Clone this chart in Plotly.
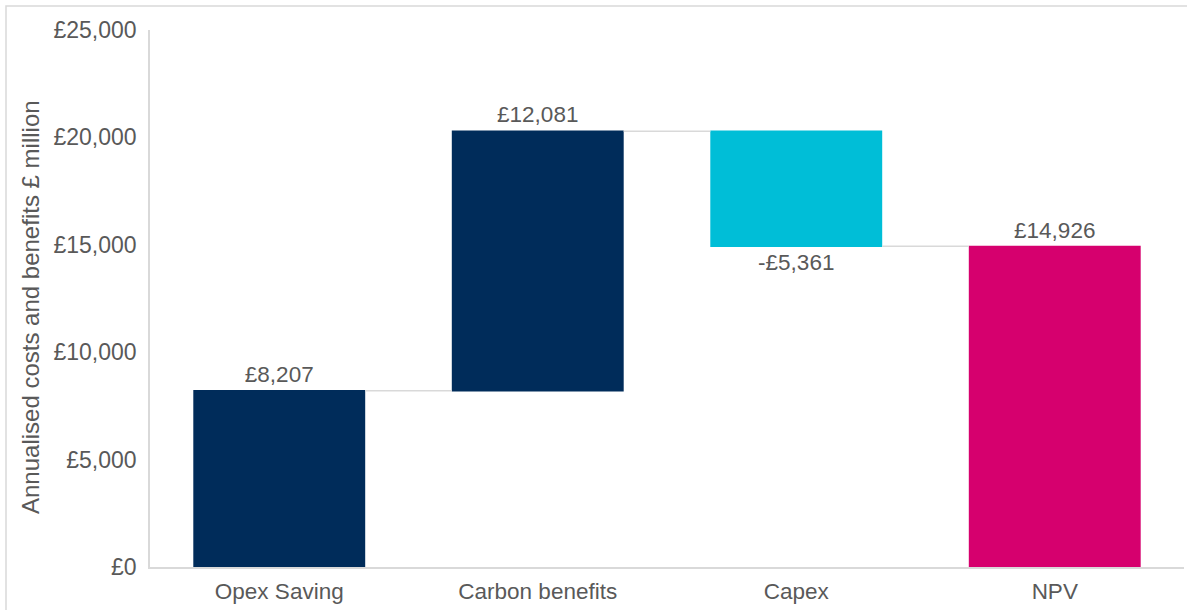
import plotly.graph_objects as go

# Waterfall steps
categories = ["Opex Saving", "Carbon benefits", "Capex", "NPV"]
values = [8207, 12081, -5361, 14926]
measures = ["relative", "relative", "relative", "absolute"]

# Y axis ticks
tick_values = [0, 5000, 10000, 15000, 20000, 25000]
tick_labels = ["£0", "£5,000", "£10,000", "£15,000", "£20,000", "£25,000"]

NAVY = "#002C5A"
CYAN = "#00BED7"
MAGENTA = "#D6006E"
GREY_TEXT = "#595959"
GREY_LINE = "#D9D9D9"
FONT = "Liberation Sans, Arial, sans-serif"

# plot area in pixels
PLOT_L, PLOT_R, PLOT_T, PLOT_B = 150, 1184, 30, 567
W, H = 1187, 610
PW, PH = PLOT_R - PLOT_L, PLOT_B - PLOT_T


def money(v):
    return ("-£" if v < 0 else "£") + f"{abs(v):,}"


fig = go.Figure(
    go.Waterfall(
        x=categories,
        y=values,
        measure=measures,
        text=[money(v) for v in values],
        textposition="outside",
        textfont=dict(family=FONT, size=22.5, color=GREY_TEXT),
        increasing=dict(marker=dict(color=NAVY)),
        decreasing=dict(marker=dict(color=CYAN)),
        totals=dict(marker=dict(color=MAGENTA)),
        connector=dict(mode="between", line=dict(color=GREY_LINE, width=1.5)),
        cliponaxis=False,
        hoverinfo="skip",
    )
)

fig.update_layout(
    width=W,
    height=H,
    margin=dict(l=PLOT_L, r=W - PLOT_R, t=PLOT_T, b=H - PLOT_B),
    paper_bgcolor="white",
    plot_bgcolor="white",
    showlegend=False,
    waterfallgap=0.335,
    font=dict(family=FONT, size=22, color=GREY_TEXT),
    xaxis=dict(
        showgrid=False,
        showline=True,
        linecolor=GREY_LINE,
        linewidth=1.5,
        ticks="",
        tickfont=dict(family=FONT, size=22.5, color=GREY_TEXT),
        ticklabelstandoff=3,
        fixedrange=True,
    ),
    yaxis=dict(
        range=[0, 25000],
        tickvals=tick_values,
        ticktext=tick_labels,
        showgrid=False,
        zeroline=False,
        showline=True,
        linecolor=GREY_LINE,
        linewidth=1.5,
        ticks="",
        tickfont=dict(family=FONT, size=23, color=GREY_TEXT),
        ticklabelstandoff=7,
        fixedrange=True,
    ),
    annotations=[
        # y axis title
        dict(
            text="Annualised costs and benefits £ million",
            textangle=-90,
            xref="paper",
            yref="paper",
            x=(30 - PLOT_L) / PW,
            y=(PLOT_B - 307) / PH,
            xanchor="center",
            yanchor="middle",
            showarrow=False,
            font=dict(family=FONT, size=24, color=GREY_TEXT),
        )
    ],
    shapes=[
        # chart frame
        dict(
            type="rect",
            xref="paper",
            yref="paper",
            x0=(6 - PLOT_L) / PW,
            x1=1.2,
            y0=-0.3,
            y1=1 + (PLOT_T - 6) / PH,
            line=dict(color=GREY_LINE, width=1.5),
            fillcolor="rgba(0,0,0,0)",
            layer="below",
        )
    ],
)

fig.write_html("out.html")
